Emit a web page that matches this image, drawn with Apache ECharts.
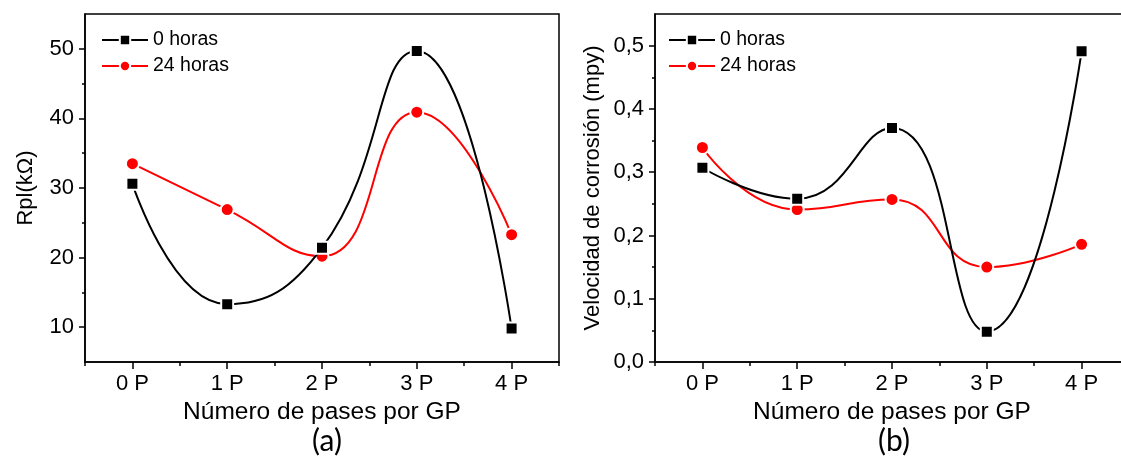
<!DOCTYPE html>
<html>
<head>
<meta charset="utf-8">
<script src="https://cdn.jsdelivr.net/npm/echarts@6/dist/echarts.min.js"></script>
<style>
  html, body { margin: 0; padding: 0; background: #fff; }
  #chart { width: 1121px; height: 462px; }
</style>
</head>
<body>
<div id="chart"></div>
<script>
  // datos
  var categorias = ['0 P', '1 P', '2 P', '3 P', '4 P']
  var rpl0h = [30.6, 13.3, 21.4, 49.7, 9.8]
  var rpl24h = [33.5, 26.9, 20.2, 40.9, 23.3]
  var vel0h = [0.307, 0.258, 0.370, 0.048, 0.491]
  var vel24h = [0.339, 0.241, 0.257, 0.150, 0.186]
  var rplTicks = [10, 20, 30, 40, 50]
  var rplMinor = [15, 25, 35, 45]
  var velTicks = [0, 0.1, 0.2, 0.3, 0.4, 0.5]
  var velMinor = [0.05, 0.15, 0.25, 0.35, 0.45]

  var fuente = "'Liberation Sans', Arial, sans-serif"
  var myChart = echarts.init(document.getElementById('chart'))

  function ejeX(gridIndex, principal) {
    return {
      type: 'category',
      gridIndex: gridIndex,
      position: 'bottom',
      data: categorias,
      boundaryGap: true,
      axisLine: { show: !principal, lineStyle: { color: '#000', width: 1.5 } },
      axisTick: principal
        ? { show: true, alignWithLabel: true, length: 7, lineStyle: { color: '#000', width: 1.5 } }
        : { show: true, alignWithLabel: false, length: 4, lineStyle: { color: '#000', width: 1.5 } },
      axisLabel: { show: principal, margin: 11, color: '#000', fontSize: 22, fontFamily: fuente },
      splitLine: { show: false },
      name: principal ? 'Número de pases por GP' : '',
      nameLocation: 'middle',
      nameGap: 36,
      nameTextStyle: { color: '#000', fontSize: 24.5, fontFamily: fuente }
    }
  }

  function ejeY(gridIndex, min, max, valores, nombre, fmt, gap) {
    return {
      type: 'value',
      gridIndex: gridIndex,
      position: 'left',
      min: min,
      max: max,
      axisLine: { show: true, lineStyle: { color: '#000', width: 1.5 } },
      axisTick: { show: true, customValues: valores, length: 6, lineStyle: { color: '#000', width: 1.5 } },
      axisLabel: { customValues: valores, formatter: fmt, margin: 11, color: '#000', fontSize: 22, fontFamily: fuente },
      splitLine: { show: false },
      name: nombre,
      nameLocation: 'middle',
      nameRotate: 90,
      nameGap: gap,
      nameTextStyle: { color: '#000', fontSize: 22, fontFamily: fuente }
    }
  }

  function ejeYMenor(gridIndex, min, max, valores) {
    return {
      type: 'value',
      gridIndex: gridIndex,
      min: min,
      max: max,
      position: 'left',
      axisLine: { show: false },
      axisTick: { show: true, customValues: valores, length: 3, lineStyle: { color: '#000', width: 1.5 } },
      axisLabel: { show: false },
      splitLine: { show: false }
    }
  }

  function serie(nombre, datos, xi, yi, color, simbolo, tam) {
    return {
      name: nombre,
      type: 'line',
      xAxisIndex: xi,
      yAxisIndex: yi,
      data: datos,
      smooth: 0.5,
      symbol: simbolo,
      symbolSize: tam,
      showAllSymbol: true,
      lineStyle: { color: color, width: 2 },
      itemStyle: { color: color, borderColor: '#fff', borderWidth: 2 },
      z: simbolo === 'rect' ? 3 : 2
    }
  }

  var coma = function (v) { return v.toFixed(1).replace('.', ',') }

  var option = {
    animation: false,
    backgroundColor: '#fff',
    grid: [
      { left: 85, top: 14, width: 474, height: 348, show: true, borderColor: '#000', borderWidth: 1.5, outerBoundsMode: 'none', containLabel: false },
      { left: 655, top: 14, width: 474, height: 348, show: true, borderColor: '#000', borderWidth: 1.5, outerBoundsMode: 'none', containLabel: false }
    ],
    title: [
      { text: '(a)', left: 322, top: 421, textAlign: 'center', textStyle: { fontFamily: 'Lato, Open Sans, sans-serif', fontWeight: 'normal', fontSize: 30, color: '#000' } },
      { text: '(b)', left: 889, top: 421, textAlign: 'center', textStyle: { fontFamily: 'Lato, Open Sans, sans-serif', fontWeight: 'normal', fontSize: 30, color: '#000' } }
    ],
    legend: [
      {
        data: ['0 horas', '24 horas'], orient: 'vertical', left: 96, top: 25,
        itemWidth: 46, itemHeight: 13, itemGap: 6,
        textStyle: { color: '#000', fontSize: 19.5, fontFamily: fuente }
      },
      {
        data: ['0 horas', '24 horas'], orient: 'vertical', left: 663, top: 25,
        itemWidth: 46, itemHeight: 13, itemGap: 6,
        textStyle: { color: '#000', fontSize: 19.5, fontFamily: fuente }
      }
    ],
    xAxis: [ejeX(0, false), ejeX(0, true), ejeX(1, false), ejeX(1, true)],
    yAxis: [
      ejeY(0, 5, 55, rplTicks, 'Rpl(kΩ)', function (v) { return String(v) }, 48),
      ejeYMenor(0, 5, 55, rplMinor),
      ejeY(1, 0, 0.55, velTicks, 'Velocidad de corrosión (mpy)', coma, 51),
      ejeYMenor(1, 0, 0.55, velMinor)
    ],
    series: [
      serie('0 horas', rpl0h, 0, 0, '#000', 'rect', 12),
      serie('24 horas', rpl24h, 0, 0, '#ff0000', 'circle', 13),
      serie('0 horas', vel0h, 2, 2, '#000', 'rect', 12),
      serie('24 horas', vel24h, 2, 2, '#ff0000', 'circle', 13)
    ]
  }
  myChart.setOption(option)
</script>
</body>
</html>
